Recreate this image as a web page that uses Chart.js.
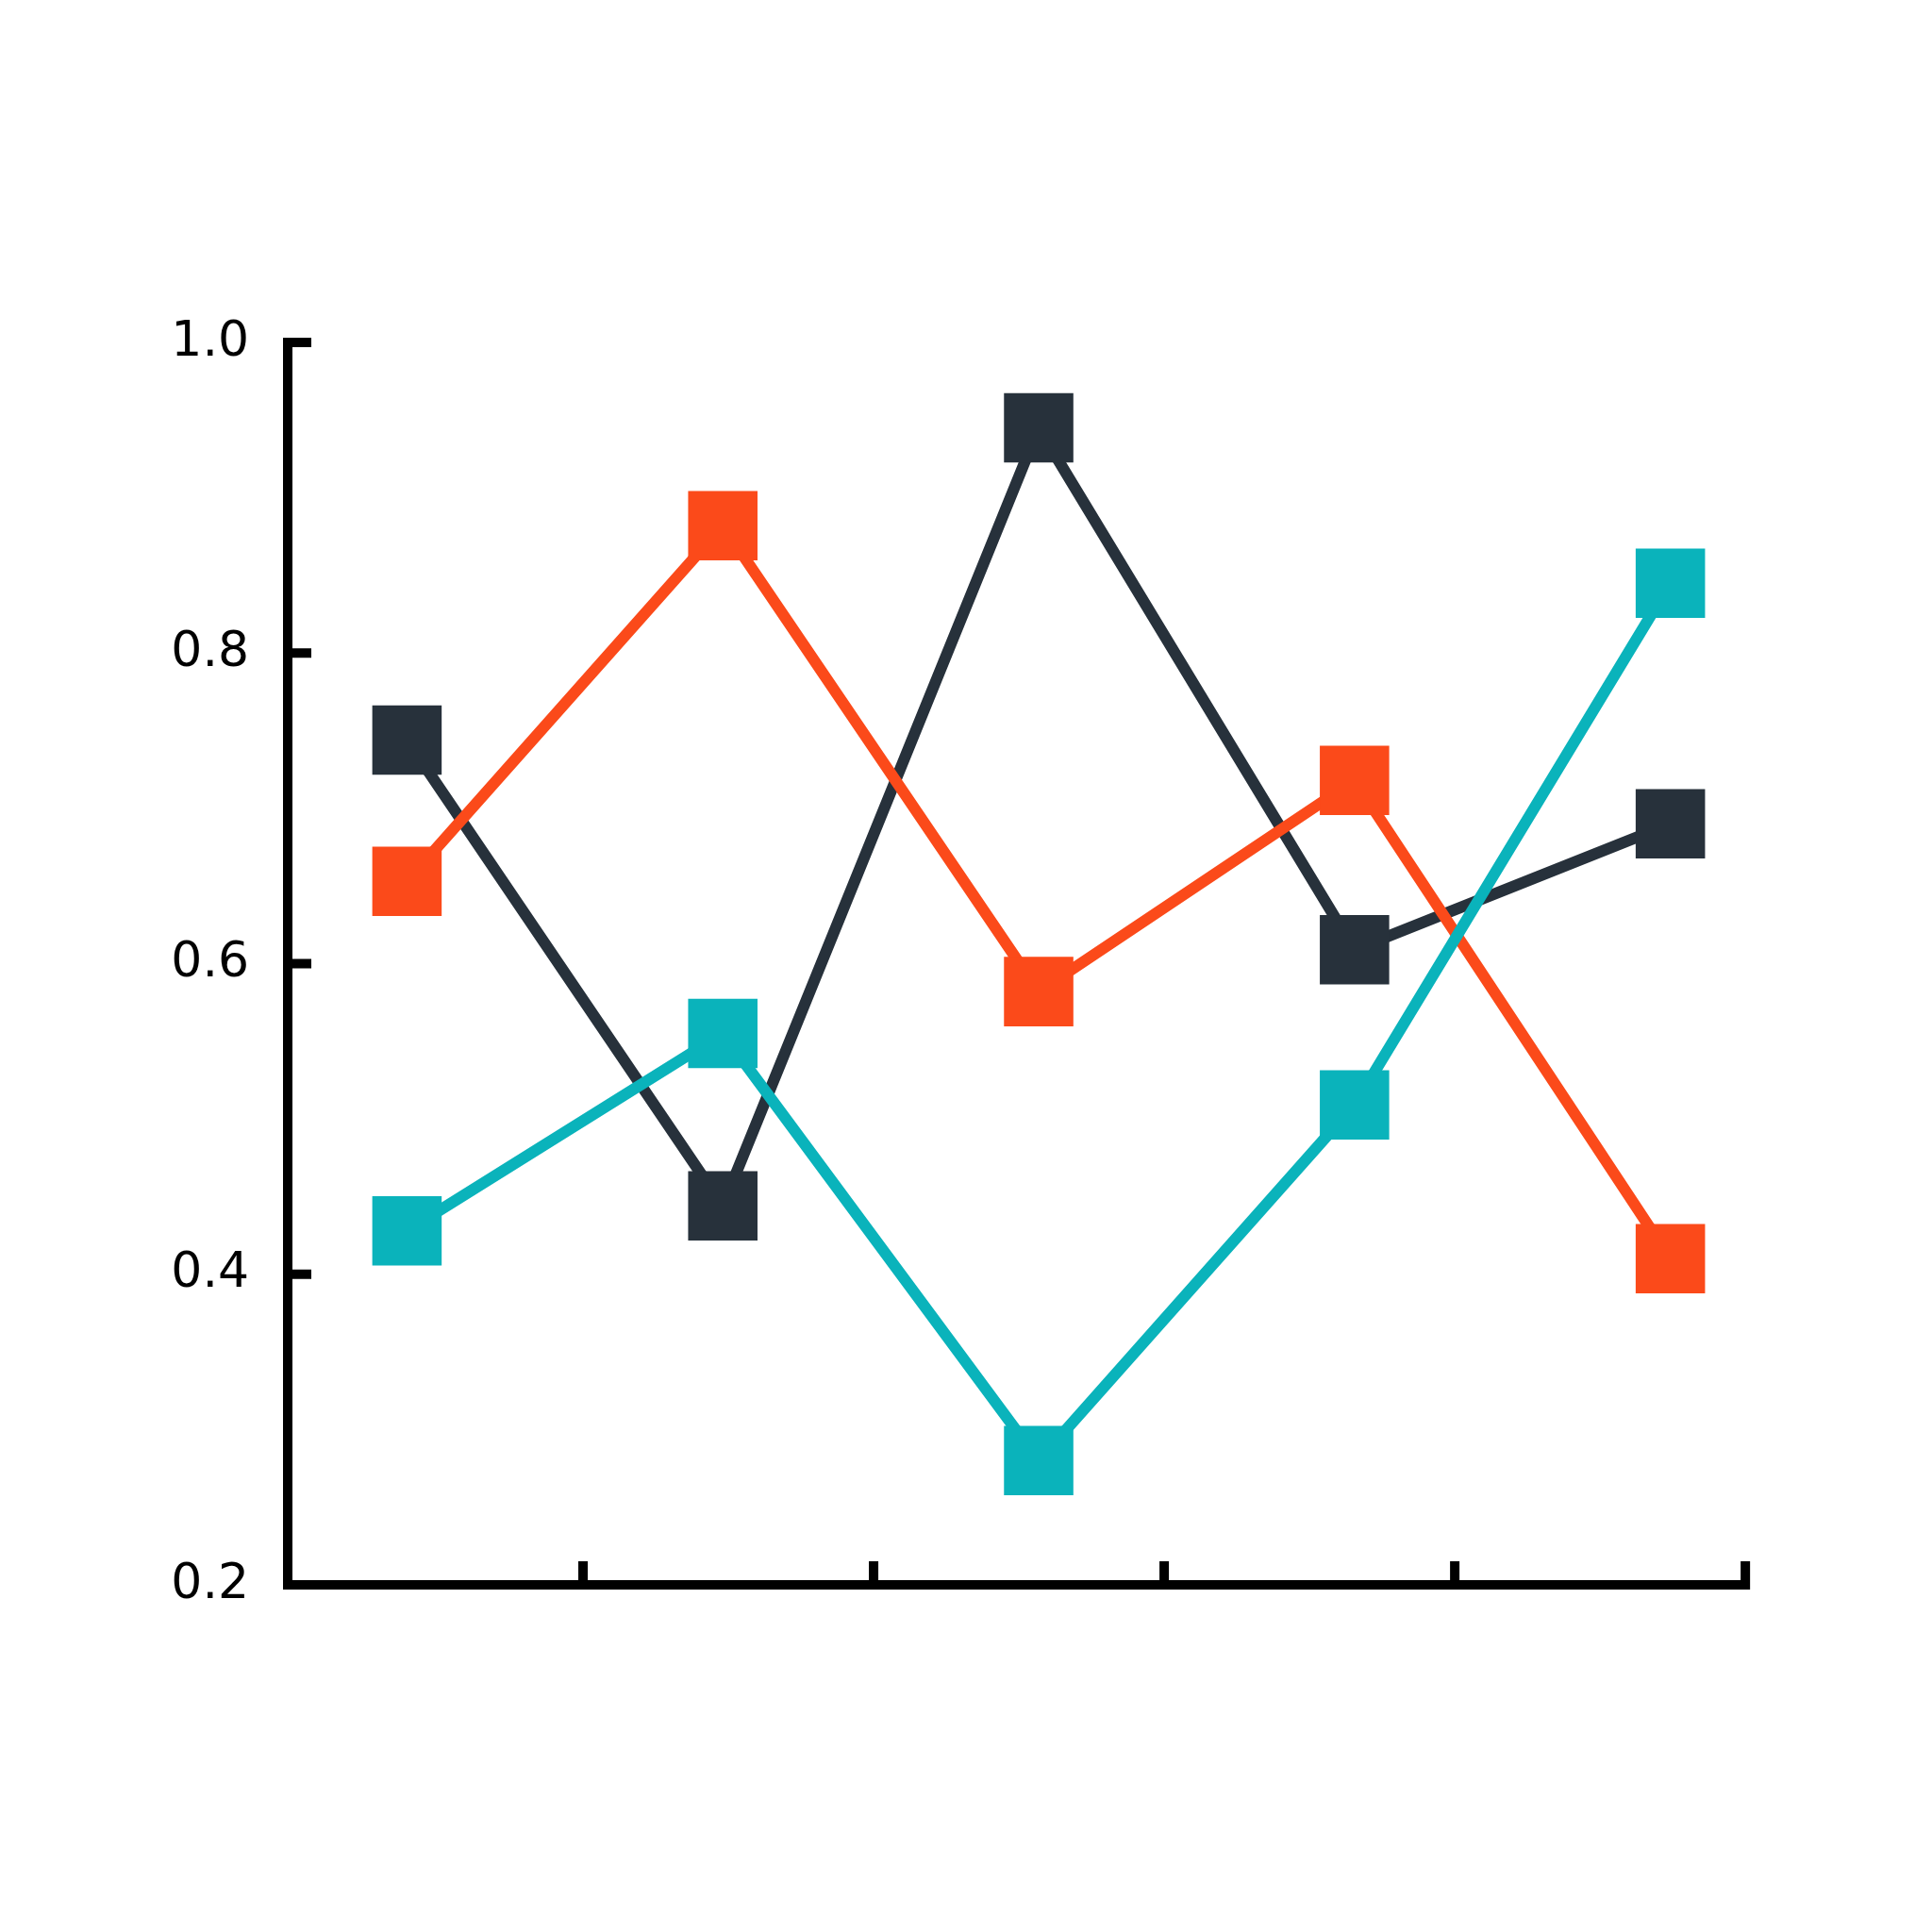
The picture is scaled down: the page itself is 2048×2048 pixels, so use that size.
<!DOCTYPE html>
<html><head><script src="https://cdn.jsdelivr.net/npm/chart.js@4/dist/chart.umd.min.js"></script>
<style>body{margin:0;background:#fff}#w{width:2048px;height:2048px}</style></head>
<body><div id="w"><canvas id="c"></canvas></div>
<script>
const xs=[0,1,2,3,4];
const teal=[0.428,0.555,0.280,0.509,0.845];
const orange=[0.653,0.882,0.582,0.718,0.410];
const dark=[0.744,0.444,0.945,0.609,0.690];
const yTicks=[0.2,0.4,0.6,0.8,1.0];
const xMin=-0.3626, xStep=0.920, xMax=4.234;
const mk=(d,c)=>({data:xs.map((x,i)=>({x,y:d[i]})),borderColor:c,backgroundColor:c,borderWidth:12,pointStyle:'rect',pointRadius:52,pointHoverRadius:52,pointBorderWidth:0,clip:false});
const axes={id:'axes',afterDraw(ch){const g=ch.ctx,x=ch.scales.x,y=ch.scales.y,a=ch.chartArea;g.save();g.fillStyle='#000';
const lw=10,tl=30;
g.fillRect(a.left-lw,a.top-lw/2,lw,a.bottom-a.top+lw);g.fillRect(a.left-lw,a.bottom-lw/2,a.right-a.left+lw+lw/2,lw);
yTicks.forEach(v=>{const p=y.getPixelForValue(v);g.fillRect(a.left-lw,p-lw/2,tl,lw);});
for(let k=1;k<=5;k++){const p=x.getPixelForValue(xMin+k*xStep);g.fillRect(p-lw/2,a.bottom-tl+lw/2,lw,tl);}
g.restore();}};
new Chart(document.getElementById('c'),{type:'line',data:{datasets:[mk(teal,'#0ab3bb'),mk(orange,'#fb4a1a'),mk(dark,'#27313b')]},
options:{responsive:true,maintainAspectRatio:false,animation:false,layout:{padding:{left:0,right:199,top:363,bottom:368}},
plugins:{legend:{display:false},tooltip:{enabled:false}},
scales:{x:{type:'linear',min:xMin,max:xMax,grid:{display:false},border:{display:false},ticks:{display:false},afterFit(s){s.height=0;}},
y:{min:0.2,max:1.0,grid:{display:false},border:{display:false},afterBuildTicks(s){s.ticks=yTicks.map(v=>({value:v}));},
ticks:{color:'#000',font:{family:'DejaVu Sans',size:52},padding:38,callback:v=>v.toFixed(1)},afterFit(s){s.width=310;}}}},plugins:[axes]});
</script></body></html>
